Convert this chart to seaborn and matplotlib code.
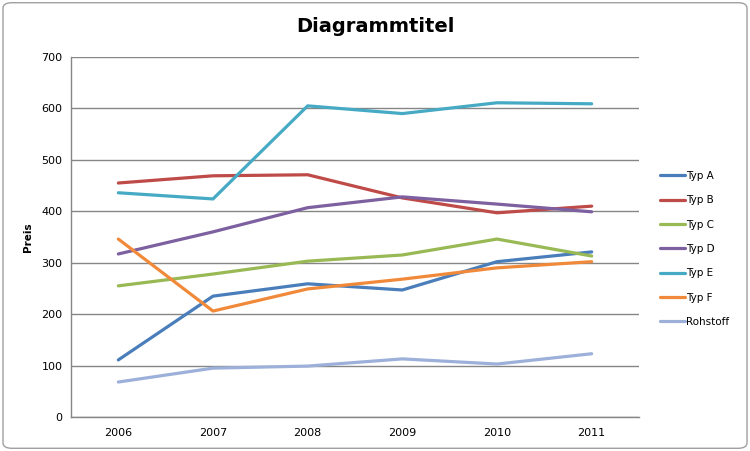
import pandas as pd
import matplotlib.pyplot as plt
import seaborn as sns
from matplotlib.patches import FancyBboxPatch

# Data
years = [2006, 2007, 2008, 2009, 2010, 2011]
typ_a = [111, 235, 259, 247, 302, 321]
typ_b = [455, 469, 471, 426, 397, 410]
typ_c = [255, 278, 303, 315, 346, 313]
typ_d = [317, 360, 407, 428, 414, 399]
typ_e = [436, 424, 605, 590, 611, 609]
typ_f = [346, 206, 249, 268, 290, 302]
rohstoff = [68, 95, 99, 113, 103, 123]

series = {
    'Typ A': typ_a,
    'Typ B': typ_b,
    'Typ C': typ_c,
    'Typ D': typ_d,
    'Typ E': typ_e,
    'Typ F': typ_f,
    'Rohstoff': rohstoff,
}
colors = ['#4A7EBB', '#BE4B48', '#98B954', '#7D60A0', '#46AAC5', '#F08A3A', '#9DB0DA']

rows = []
for name, vals in series.items():
    for i, v in enumerate(vals):
        rows.append({'pos': i, 'Jahr': str(years[i]), 'Preis': v, 'Serie': name})
df = pd.DataFrame(rows)

sns.set_style("white")
plt.rcParams['font.family'] = ['DejaVu Sans']
plt.rcParams['text.color'] = 'black'

fig = plt.figure(figsize=(7.5, 4.51), dpi=100)
ax = fig.add_axes([71 / 750, 1 - 417 / 451, (639 - 71) / 750, (417 - 57) / 451])

# rounded outer frame
frame = FancyBboxPatch((0.004, 0.006), 0.992, 0.988, boxstyle="round,pad=0,rounding_size=0.012",
                       transform=fig.transFigure, fill=False, edgecolor='#A0A0A0', linewidth=1)
fig.patches.append(frame)

sns.lineplot(data=df, x='pos', y='Preis', hue='Serie', palette=colors, linewidth=2.3, ax=ax,
             legend=True)

ax.set_xlim(-0.5, 5.5)
ax.set_ylim(0, 700)
ax.set_yticks(range(0, 701, 100))
ax.set_xticks(range(len(years)))
ax.set_xticklabels([str(y) for y in years])
ax.yaxis.grid(True, color='#868686', linewidth=1)
ax.set_axisbelow(True)
for s in ['top', 'right']:
    ax.spines[s].set_visible(False)
for s in ['left', 'bottom']:
    ax.spines[s].set_color('#868686')
    ax.spines[s].set_linewidth(1)
ax.tick_params(axis='both', labelsize=8, colors='black', length=0, pad=6)
ax.tick_params(axis='x', pad=8)
ax.set_xlabel('')
ax.set_ylabel('Preis', fontsize=7.5, fontweight='bold', labelpad=6, color='black')

fig.text(0.5, 1 - 27 / 451, 'Diagrammtitel', ha='center', va='center', fontsize=14,
         fontweight='bold', color='black')

leg = ax.legend(loc='upper left', bbox_to_anchor=(1.02, 0.71), frameon=False, fontsize=7.5,
                handlelength=2.4, handletextpad=0.1, labelspacing=1.38)
for line in leg.get_lines():
    line.set_linewidth(2.3)
for t in leg.get_texts():
    t.set_color('black')

fig.savefig('out.png', dpi=100)
